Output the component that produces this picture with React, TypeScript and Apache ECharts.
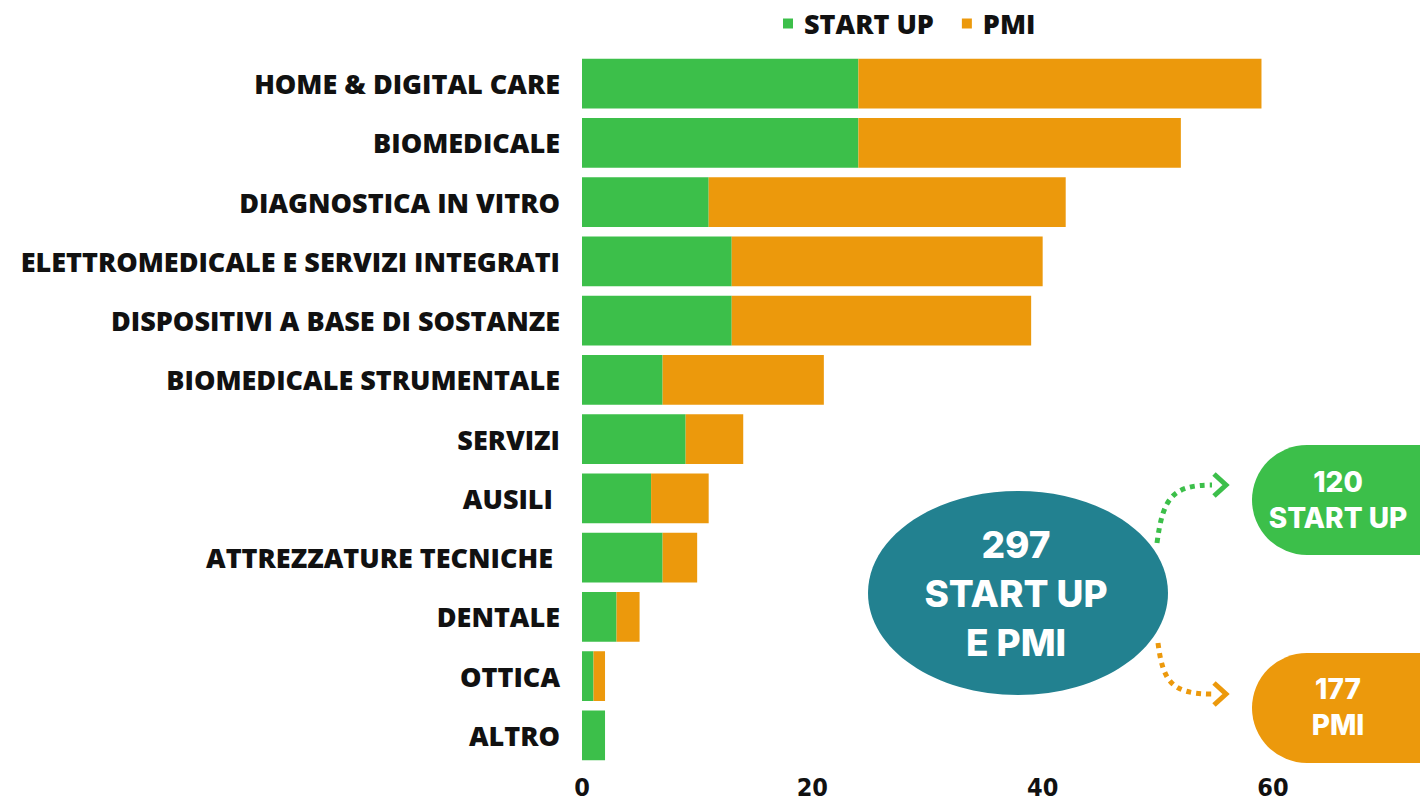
import React, { useEffect, useRef } from "react";
import * as echarts from "echarts";

const categories = [
  "HOME & DIGITAL CARE",
  "BIOMEDICALE",
  "DIAGNOSTICA IN VITRO",
  "ELETTROMEDICALE E SERVIZI INTEGRATI",
  "DISPOSITIVI A BASE DI SOSTANZE",
  "BIOMEDICALE STRUMENTALE",
  "SERVIZI",
  "AUSILI ",
  "ATTREZZATURE TECNICHE ",
  "DENTALE",
  "OTTICA",
  "ALTRO",
];
const startUp = [24, 24, 11, 13, 13, 7, 9, 6, 7, 3, 1, 2];
const pmi = [35, 28, 31, 27, 26, 14, 5, 5, 3, 2, 1, 0];
const axisMin = 0;
const axisMax = 60;
const axisInterval = 20;

const GREEN = "#3CBF4A";
const ORANGE = "#EC990C";
const TEAL = "#228190";

const sum = (a: number[]) => a.reduce((s, v) => s + v, 0);

export default function App() {
  const ref = useRef<HTMLDivElement>(null);
  useEffect(() => {
    document.body.style.margin = "0";
    if (!ref.current) return;
    const chart = echarts.init(ref.current, null, { renderer: "svg" });
    const totS = sum(startUp);
    const totP = sum(pmi);
    const labelFont = "'Open Sans', sans-serif";
    const headFont = "Inter, 'Open Sans', sans-serif";
    chart.setOption({
      animation: false,
      legend: {
        left: 778,
        top: 5,
        icon: "rect",
        itemWidth: 10,
        itemHeight: 10,
        itemGap: 28,
        textStyle: {
          fontFamily: labelFont,
          fontWeight: 800,
          fontSize: 27,
          color: "#111",
          padding: [0, 0, 0, 6],
        },
        data: ["START UP", "PMI"],
      },
      grid: { left: 582, right: 147, top: 54, bottom: 37, containLabel: false },
      xAxis: {
        type: "value",
        min: axisMin,
        max: axisMax,
        interval: axisInterval,
        splitLine: { show: false },
        axisLine: { show: false },
        axisTick: { show: false },
        axisLabel: {
          margin: 10,
          fontFamily: "'Liberation Sans Narrow', 'DejaVu Sans Condensed', sans-serif",
          fontWeight: "bold",
          fontSize: 25,
          color: "#111",
        },
      },
      yAxis: {
        type: "category",
        inverse: true,
        data: categories,
        axisLine: { show: false },
        axisTick: { show: false },
        axisLabel: {
          margin: 22,
          fontFamily: labelFont,
          fontWeight: 800,
          fontSize: 27,
          color: "#111",
        },
      },
      series: [
        {
          name: "START UP",
          type: "bar",
          stack: "t",
          data: startUp,
          barWidth: "84%",
          itemStyle: { color: GREEN },
        },
        {
          name: "PMI",
          type: "bar",
          stack: "t",
          data: pmi,
          barWidth: "84%",
          itemStyle: { color: ORANGE },
        },
      ],
      graphic: [
        {
          type: "bezierCurve",
          shape: { x1: 1157, y1: 543, cpx1: 1163, cpy1: 498, cpx2: 1172, cpy2: 485, x2: 1212, y2: 485 },
          style: { stroke: GREEN, lineWidth: 5, lineDash: [5, 5], fill: null },
        },
        {
          type: "polyline",
          shape: { points: [[1214, 474], [1226, 485], [1214, 496]] },
          style: { stroke: GREEN, lineWidth: 5, fill: null },
        },
        {
          type: "bezierCurve",
          shape: { x1: 1158, y1: 643, cpx1: 1163, cpy1: 682, cpx2: 1172, cpy2: 694, x2: 1212, y2: 694 },
          style: { stroke: ORANGE, lineWidth: 5, lineDash: [5, 5], fill: null },
        },
        {
          type: "polyline",
          shape: { points: [[1214, 683], [1226, 694], [1214, 705]] },
          style: { stroke: ORANGE, lineWidth: 5, fill: null },
        },
        {
          type: "ellipse",
          shape: { cx: 1018, cy: 593, rx: 150, ry: 102 },
          style: { fill: TEAL },
        },
        {
          type: "text",
          x: 1016,
          y: 593,
          style: {
            text: `${totS + totP}\nSTART UP\nE PMI`,
            fill: "#fff",
            fontFamily: headFont,
            fontWeight: 800,
            fontSize: 37,
            lineHeight: 49,
            align: "center",
            verticalAlign: "middle",
          },
        },
        {
          type: "rect",
          shape: { x: 1252, y: 445, width: 230, height: 110, r: 55 },
          style: { fill: GREEN },
        },
        {
          type: "text",
          x: 1338,
          y: 500,
          style: {
            text: `${totS}\nSTART UP`,
            fill: "#fff",
            fontFamily: headFont,
            fontWeight: 800,
            fontSize: 28,
            lineHeight: 36,
            align: "center",
            verticalAlign: "middle",
          },
        },
        {
          type: "rect",
          shape: { x: 1252, y: 653, width: 230, height: 110, r: 55 },
          style: { fill: ORANGE },
        },
        {
          type: "text",
          x: 1338,
          y: 707,
          style: {
            text: `${totP}\nPMI`,
            fill: "#fff",
            fontFamily: headFont,
            fontWeight: 800,
            fontSize: 28,
            lineHeight: 36,
            align: "center",
            verticalAlign: "middle",
          },
        },
      ],
    });
    return () => chart.dispose();
  }, []);
  return <div ref={ref} style={{ width: 1420, height: 802 }} />;
}
